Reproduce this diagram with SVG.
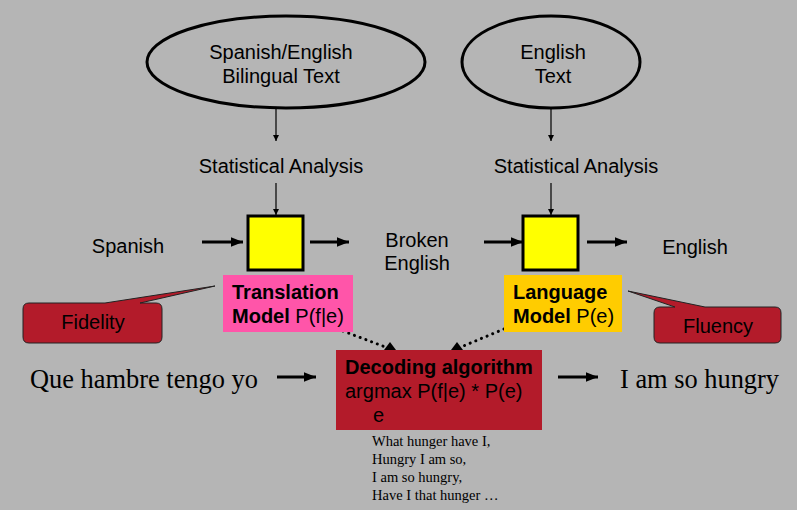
<svg xmlns="http://www.w3.org/2000/svg" width="797" height="510" viewBox="0 0 797 510">
<style>
.sans{font-family:"Liberation Sans",Arial,sans-serif;fill:#000}
.serif{font-family:"Liberation Serif","Times New Roman",serif;fill:#000}
.t20{font-size:20px}
.b{font-weight:bold}
.ell{fill:none;stroke:#000;stroke-width:3}
.box{fill:#ffff00;stroke:#000;stroke-width:3}
.thin{stroke:#000;stroke-width:1.2;fill:none}
.thick{stroke:#000;stroke-width:3;fill:none}
.dot{stroke:#000;stroke-width:3;fill:none;stroke-dasharray:0.1 6;stroke-linecap:round}
.callout{fill:#b31b2a;stroke:#222;stroke-width:1}
</style>
<defs>
<marker id="ahS" viewBox="0 0 10 10" refX="10" refY="5" markerWidth="6" markerHeight="6" markerUnits="userSpaceOnUse" orient="auto"><path d="M0,0 L10,5 L0,10 Z" fill="#000"/></marker>
<marker id="ahL" viewBox="0 0 10 10" refX="10" refY="5" markerWidth="12" markerHeight="12" markerUnits="userSpaceOnUse" orient="auto"><path d="M0,1 L10,5 L0,9 Z" fill="#000"/></marker>
</defs>
<rect width="797" height="510" fill="#b5b5b5"/>

<g id="connectors">
<line class="thin" x1="276" y1="109" x2="276" y2="141" marker-end="url(#ahS)"/>
<line class="thin" x1="551" y1="109" x2="551" y2="141" marker-end="url(#ahS)"/>
<line class="thin" x1="276" y1="183" x2="276" y2="215" marker-end="url(#ahS)"/>
<line class="thin" x1="551" y1="183" x2="551" y2="215" marker-end="url(#ahS)"/>
<line class="thick" x1="202" y1="242" x2="243" y2="242" marker-end="url(#ahL)"/>
<line class="thick" x1="310" y1="242" x2="349" y2="242" marker-end="url(#ahL)"/>
<line class="thick" x1="484" y1="242" x2="523" y2="242" marker-end="url(#ahL)"/>
<line class="thick" x1="587" y1="242" x2="627" y2="242" marker-end="url(#ahL)"/>
<line class="thick" x1="277" y1="377" x2="316" y2="377" marker-end="url(#ahL)"/>
<line class="thick" x1="558" y1="377" x2="598" y2="377" marker-end="url(#ahL)"/>
<line class="dot" x1="343" y1="331" x2="388" y2="348"/>
<path d="M384,350 L390,342 L396,350 Z" fill="#000"/>
<line class="dot" x1="504" y1="329" x2="461" y2="347"/>
<path d="M451,350 L457,342 L463,350 Z" fill="#000"/>
</g>

<g id="bilingual">
<ellipse class="ell" cx="286" cy="62" rx="139" ry="46"/>
<text class="sans t20" x="281" y="59" text-anchor="middle">Spanish/English</text>
<text class="sans t20" x="281" y="83" text-anchor="middle">Bilingual Text</text>
</g>
<g id="english-text">
<ellipse class="ell" cx="551" cy="62" rx="89" ry="46"/>
<text class="sans t20" x="553" y="59" text-anchor="middle">English</text>
<text class="sans t20" x="553" y="83" text-anchor="middle">Text</text>
</g>
<g id="stat1"><text class="sans t20" x="281" y="173" text-anchor="middle">Statistical Analysis</text></g>
<g id="stat2"><text class="sans t20" x="576" y="173" text-anchor="middle">Statistical Analysis</text></g>

<g id="spanish"><text class="sans t20" x="128" y="253" text-anchor="middle">Spanish</text></g>
<g id="box1"><rect class="box" x="248" y="216" width="55" height="54"/></g>
<g id="broken"><text class="sans t20" x="417" y="247" text-anchor="middle">Broken</text><text class="sans t20" x="417" y="270" text-anchor="middle">English</text></g>
<g id="box2"><rect class="box" x="523" y="216" width="55" height="54"/></g>
<g id="english-out"><text class="sans t20" x="695" y="254" text-anchor="middle">English</text></g>

<g id="translation-model">
<rect x="223" y="275" width="130" height="57" fill="#ff55a9"/>
<text class="sans t20" x="232" y="299"><tspan class="b">Translation</tspan></text>
<text class="sans t20" x="232" y="323"><tspan class="b">Model</tspan> P(f|e)</text>
</g>
<g id="language-model">
<rect x="504" y="275" width="118" height="57" fill="#ffcc00"/>
<text class="sans t20" x="513" y="299"><tspan class="b">Language</tspan></text>
<text class="sans t20" x="513" y="323"><tspan class="b">Model</tspan> P(e)</text>
</g>

<g id="fidelity">
<path class="callout" d="M29,303 L105,303 L215,286 L140,303 L156,303 Q162,303 162,309 L162,337 Q162,343 156,343 L29,343 Q23,343 23,337 L23,309 Q23,303 29,303 Z"/>
<text class="sans t20" x="93" y="329" text-anchor="middle">Fidelity</text>
</g>
<g id="fluency">
<path class="callout" d="M660,307 L675,307 L628,291 L705,307 L775,307 Q781,307 781,313 L781,337 Q781,343 775,343 L660,343 Q654,343 654,337 L654,313 Q654,307 660,307 Z"/>
<text class="sans t20" x="718" y="333" text-anchor="middle">Fluency</text>
</g>

<g id="decoding">
<rect x="336" y="350" width="206" height="80" fill="#b31b2a"/>
<text class="sans t20 b" x="345" y="374">Decoding algorithm</text>
<text class="sans t20" x="345" y="398">argmax P(f|e) * P(e)</text>
<text class="sans t20" x="373" y="422">e</text>
</g>

<g id="que"><text class="serif" font-size="26.4" x="30" y="388">Que hambre tengo yo</text></g>
<g id="hungry"><text class="serif" font-size="26.4" x="620" y="388">I am so hungry</text></g>

<g id="candidates" class="serif" font-size="14.5">
<text x="372" y="446">What hunger have I,</text>
<text x="372" y="464">Hungry I am so,</text>
<text x="372" y="482">I am so hungry,</text>
<text x="372" y="500">Have I that hunger …</text>
</g>
</svg>
